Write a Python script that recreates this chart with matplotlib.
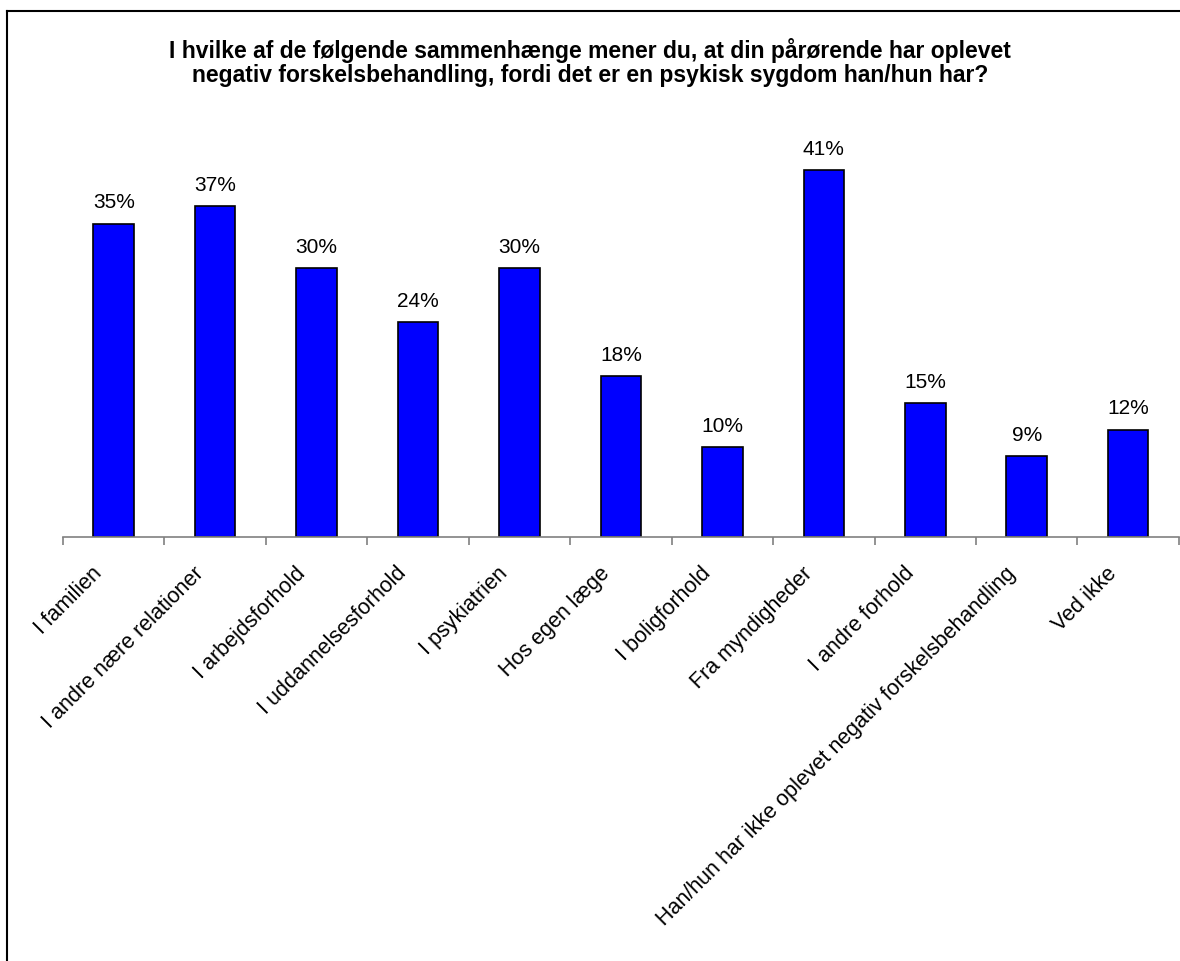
import matplotlib
matplotlib.use("Agg")
import matplotlib.pyplot as plt
import matplotlib.transforms as mtransforms
from matplotlib.lines import Line2D

plt.rcParams['font.family'] = ['Liberation Sans', 'DejaVu Sans']

# kategorier og andele (%)
kategorier = [
    "I familien",
    "I andre nære relationer",
    "I arbejdsforhold",
    "I uddannelsesforhold",
    "I psykiatrien",
    "Hos egen læge",
    "I boligforhold",
    "Fra myndigheder",
    "I andre forhold",
    "Han/hun har ikke oplevet negativ forskelsbehandling",
    "Ved ikke",
]
andele = [35, 37, 30, 24, 30, 18, 10, 41, 15, 9, 12]

titel = ("I hvilke af de følgende sammenhænge mener du, at din pårørende har oplevet\n"
         "negativ forskelsbehandling, fordi det er en psykisk sygdom han/hun har?")

fig = plt.figure(figsize=(11.8, 9.61), dpi=100)
ax = fig.add_axes([0.0534, 0.4412, 0.9456, 0.4194])

x = list(range(len(kategorier)))
ax.bar(x, andele, width=0.4, color='#0000FF', edgecolor='black', linewidth=1.2)

for xi, v in zip(x, andele):
    ax.annotate(f"{v}%", (xi, v), xytext=(0, 8), textcoords='offset points',
                ha='center', va='bottom', fontsize=15)

ax.set_xlim(-0.5, len(kategorier) - 0.5)
ax.set_ylim(0, 45)

# akse og streger mellem kategorier
for s in ['top', 'right', 'left']:
    ax.spines[s].set_visible(False)
ax.spines['bottom'].set_color('#808080')
ax.spines['bottom'].set_linewidth(1.2)
ax.set_yticks([])
ax.set_xticks([i - 0.5 for i in range(len(kategorier) + 1)])
ax.set_xticklabels([])
ax.tick_params(axis='x', length=6, width=1.2, color='#808080', direction='out')

# skrå kategoritekster
offset = mtransforms.ScaledTranslation(-22 / 100, -26 / 100, fig.dpi_scale_trans)
for xi, lab in zip(x, kategorier):
    ax.text(xi, 0, lab, rotation=45, rotation_mode='anchor', ha='right', va='top',
            fontsize=15.5, transform=ax.transData + offset)

fig.text(0.5, 0.935, titel, ha='center', va='center', fontsize=16.5,
         fontweight='bold', linespacing=1.1)

# ramme (venstre og øverst)
fig.add_artist(Line2D([7 / 1180, 7 / 1180], [0, 1 - 11 / 961], color='black', lw=1.5,
                      transform=fig.transFigure))
fig.add_artist(Line2D([7 / 1180, 1], [1 - 11 / 961, 1 - 11 / 961], color='black', lw=1.5,
                      transform=fig.transFigure))

fig.savefig("out.png", dpi=100)
